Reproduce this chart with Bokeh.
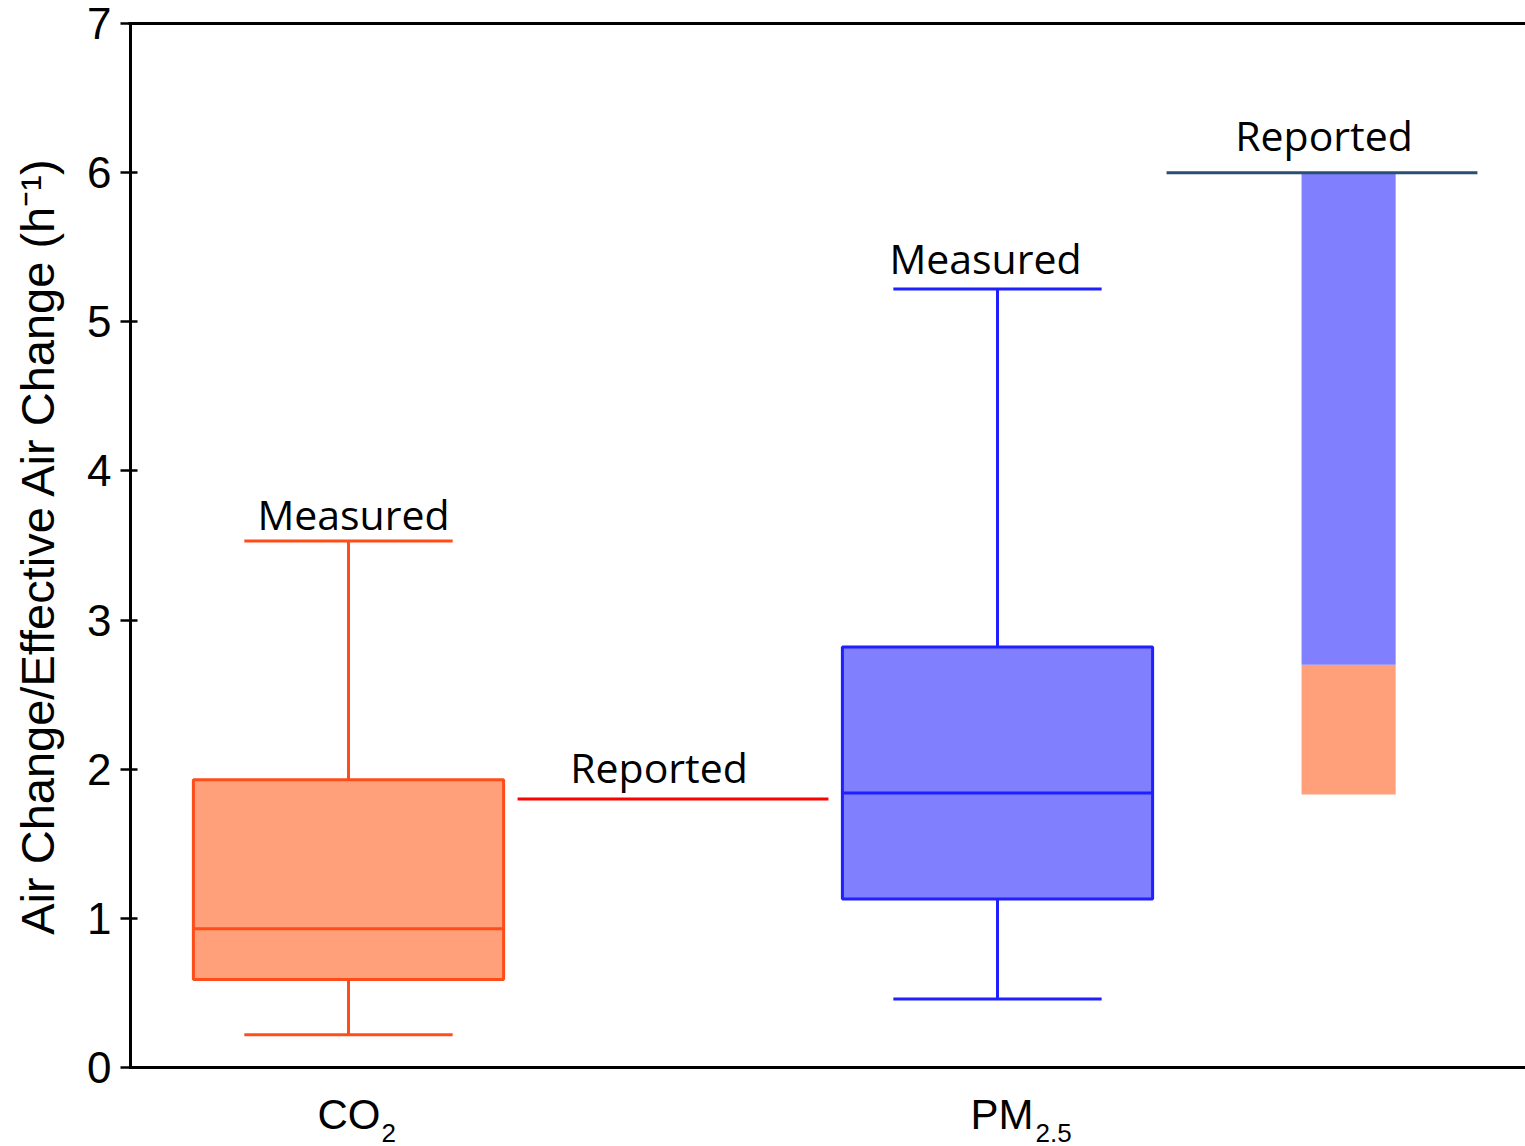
from bokeh.plotting import figure
from bokeh.models import Range1d, FixedTicker, LinearAxis
from bokeh.core.properties import value
from bokeh.embed import file_html
from bokeh.resources import INLINE

# ---------------- data ----------------
category_main = ["CO", "PM"]
category_sub = ["2", "2.5"]
measured_min = [0.22, 0.46]
measured_q1 = [0.59, 1.13]
measured_median = [0.93, 1.84]
measured_q3 = [1.93, 2.82]
measured_max = [3.53, 5.22]
reported_co2 = 1.80
reported_pm_low = 1.83
reported_pm_mid = 2.70
reported_pm_high = 6.00
y_ticks = [0, 1, 2, 3, 4, 5, 6, 7]
y_title = "Air Change/Effective Air Change (h⁻¹)"
label_measured = "Measured"
label_reported = "Reported"

# ---------------- layout / style ----------------
pos = [1, 3]            # category positions
rep_pos = [2, 4]        # reported positions
box_half = 0.478
cap_half = 0.321
rep_half = 0.479
bar_center = 4.082
bar_half = 0.145

box_line = ["#ff4d1a", "#1f1fff"]
box_fill = ["#ffa07a", "#8080ff"]

PX = 324.5                      # pixels per x unit
X0 = 1 - (348 - 128) / PX
X1 = X0 + 1397 / PX
YPX = 1044 / 7                  # pixels per y unit
YMIN = -79 / YPX
AXIS_X = X0 + 2 / PX

p = figure(width=1525, height=1146, x_range=Range1d(X0, X1), y_range=Range1d(YMIN, 7),
           output_backend="svg", toolbar_location=None,
           min_border_left=128, min_border_right=0, min_border_top=23, min_border_bottom=0)
p.xgrid.visible = False
p.ygrid.visible = False
p.xaxis.visible = False
p.outline_line_color = None
p.background_fill_color = "white"
p.border_fill_color = "white"

# y axis (line drawn as a glyph so it stops at 0)
ya = p.yaxis[0]
ya.ticker = FixedTicker(ticks=y_ticks)
ya.axis_line_color = None
ya.major_tick_line_width = 2.5
ya.major_tick_line_color = "black"
ya.major_tick_out = 8
ya.major_tick_in = 9
ya.minor_tick_line_color = None
ya.major_label_text_font = "Liberation Sans"
ya.major_label_text_font_size = "44px"
ya.major_label_text_color = "black"
ya.major_label_standoff = 9
# leading no-break spaces shift the centred title up so it centres on the 0-7 span
ya.axis_label = "\u00a0" * 6 + y_title
ya.axis_label_text_font = "Liberation Sans"
ya.axis_label_text_font_size = "47px"
ya.axis_label_text_font_style = "normal"
ya.axis_label_text_color = "black"
ya.axis_label_standoff = 20

# top border line
top = LinearAxis(ticker=FixedTicker(ticks=[]), axis_line_width=3, axis_line_color="black",
                 major_tick_out=0, major_tick_in=0, minor_tick_line_color=None,
                 major_label_standoff=0, major_label_text_font_size="0px")
p.add_layout(top, "above")

# axis lines
p.segment(x0=[AXIS_X], y0=[0], x1=[AXIS_X], y1=[7], line_color="black", line_width=3)
p.segment(x0=[AXIS_X - 1.5 / PX], y0=[0], x1=[X1], y1=[0], line_color="black", line_width=3)

# ---------------- measured boxplots ----------------
for i in range(len(pos)):
    c = pos[i]
    p.segment(x0=[c, c], y0=[measured_q3[i], measured_q1[i]], x1=[c, c],
              y1=[measured_max[i], measured_min[i]], line_color=box_line[i], line_width=3)
    p.segment(x0=[c - cap_half] * 2, x1=[c + cap_half] * 2,
              y0=[measured_max[i], measured_min[i]], y1=[measured_max[i], measured_min[i]],
              line_color=box_line[i], line_width=3)
    p.quad(left=[c - box_half], right=[c + box_half], bottom=[measured_q1[i]], top=[measured_q3[i]],
           fill_color=box_fill[i], line_color=box_line[i], line_width=3)
    p.segment(x0=[c - box_half], x1=[c + box_half], y0=[measured_median[i]], y1=[measured_median[i]],
              line_color=box_line[i], line_width=3)

# ---------------- reported ----------------
p.segment(x0=[rep_pos[0] - rep_half], x1=[rep_pos[0] + rep_half], y0=[reported_co2], y1=[reported_co2],
          line_color="#ff0000", line_width=3)
p.quad(left=[bar_center - bar_half], right=[bar_center + bar_half], bottom=[reported_pm_low],
       top=[reported_pm_mid], fill_color=box_fill[0], line_color=None)
p.quad(left=[bar_center - bar_half], right=[bar_center + bar_half], bottom=[reported_pm_mid],
       top=[reported_pm_high], fill_color=box_fill[1], line_color=None)
p.segment(x0=[rep_pos[1] - rep_half], x1=[rep_pos[1] + rep_half], y0=[reported_pm_high], y1=[reported_pm_high],
          line_color="#284e72", line_width=3)

# ---------------- annotations ----------------
p.text(x=[pos[0], rep_pos[0], pos[1], rep_pos[1]],
       y=[measured_max[0], reported_co2, measured_max[1], reported_pm_high],
       text=[label_measured, label_reported, label_measured, label_reported],
       x_offset=[5, -14, -12, 2], y_offset=[-27, -32, -31, -38],
       text_font=value("Open Sans"), text_font_size="41px", text_color="black",
       text_align="center", text_baseline="alphabetic")

# category labels with subscripts (below the zero line)
p.text(x=pos, y=[0, 0], text=category_main, x_offset=[-31, -27], y_offset=[47, 47],
       text_font=value("Liberation Sans"), text_font_size="42px", text_color="black",
       text_align="left", text_baseline="alphabetic")
p.text(x=pos, y=[0, 0], text=category_sub, x_offset=[33, 38], y_offset=[65, 65],
       text_font=value("Liberation Sans"), text_font_size="26px", text_color="black",
       text_align="left", text_baseline="alphabetic")

open("out.html", "w").write(file_html(p, INLINE))
